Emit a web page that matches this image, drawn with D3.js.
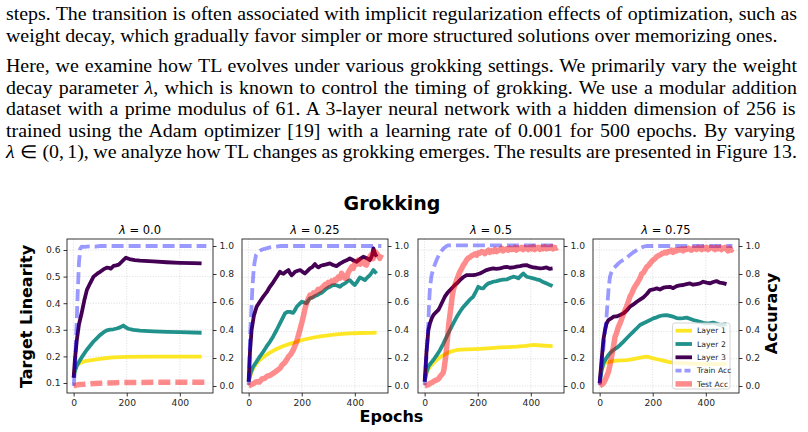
<!DOCTYPE html>
<html>
<head>
<meta charset="utf-8">
<script src="https://cdn.jsdelivr.net/npm/d3@7"></script>
<style>
  body { margin: 0; background: #fff; }
  svg { display: block; }
</style>
</head>
<body>
<svg id="page" width="808" height="432"></svg>
<script>
// ---- paragraph text above the figure ----
const textLines = [
  {y: 20,    justify: true,  parts: [["steps. The transition is often associated with implicit regularization effects of optimization, such as"]]},
  {y: 41.5,  justify: false, parts: [["weight decay, which gradually favor simpler or more structured solutions over memorizing ones."]]},
  {y: 72,    justify: true,  parts: [["Here, we examine how TL evolves under various grokking settings. We primarily vary the weight"]]},
  {y: 93.5,  justify: true,  parts: [["decay parameter "], ["λ", true], [", which is known to control the timing of grokking. We use a modular addition"]]},
  {y: 115,   justify: true,  parts: [["dataset with a prime modulus of 61.  A 3-layer neural network with a hidden dimension of 256 is"]]},
  {y: 136.5, justify: true,  parts: [["trained using the Adam optimizer [19] with a learning rate of 0.001 for 500 epochs.  By varying"]]},
  {y: 158,   justify: true,  parts: [["λ", true], ["\u2005∈\u2005(0,\u20061), we analyze how TL changes as grokking emerges. The results are presented in Figure 13."]]}
];

// ---- chart values: [epoch, value] ----
const lambdas = ["0.0", "0.25", "0.5", "0.75"];
const xTicks = [0, 200, 400];
const accTicks = [0, 0.2, 0.4, 0.6, 0.8, 1.0];
const tlTicksA = [0.1, 0.2, 0.3, 0.4, 0.5, 0.6];
const tlTicksB = [0, 0.2, 0.4, 0.6, 0.8, 1.0];
const legendLabels = ["Layer 1", "Layer 2", "Layer 3", "Train Acc", "Test Acc"];

// lambda = 0.0
const layer1_0 = [[0,0.12],[5,0.152],[12,0.166],[24,0.175],[40,0.181],[60,0.185],[80,0.188],[100,0.191],[125,0.194],[150,0.196],[200,0.198],[300,0.199],[400,0.199],[482,0.199]];
const layer2_0 = [[0,0.12],[5,0.145],[12,0.165],[24,0.186],[36,0.205],[49,0.224],[62,0.24],[74,0.255],[87,0.268],[99,0.28],[112,0.29],[125,0.298],[137,0.301],[150,0.302],[162,0.305],[175,0.309],[187,0.316],[195,0.31],[206,0.304],[225,0.3],[250,0.297],[300,0.294],[351,0.292],[400,0.291],[482,0.289]];
const layer3_0 = [[0,0.12],[5,0.19],[12,0.262],[20,0.32],[30,0.362],[40,0.41],[50,0.45],[62,0.475],[75,0.5],[90,0.512],[100,0.518],[112,0.527],[125,0.534],[132,0.533],[140,0.53],[150,0.54],[160,0.542],[170,0.545],[180,0.555],[190,0.565],[197,0.571],[210,0.566],[230,0.562],[250,0.56],[300,0.557],[350,0.554],[400,0.552],[450,0.551],[482,0.55]];
const train_0 = [[0,0],[5,0.12],[10,0.38],[15,0.65],[20,0.88],[25,0.98],[30,0.995],[40,0.993],[60,0.998],[80,0.995],[100,1.0],[150,1.0],[200,1.0],[300,1.0],[400,1.0],[500,1.0]];
const test_0 = [[0,0],[10,0.006],[20,0.01],[40,0.013],[50,0.017],[60,0.015],[80,0.018],[100,0.02],[130,0.022],[160,0.024],[200,0.025],[300,0.026],[400,0.026],[500,0.026]];

// lambda = 0.25
const layer1_25 = [[0,0.04],[5,0.07],[17,0.13],[30,0.167],[42,0.191],[60,0.22],[80,0.245],[105,0.272],[131,0.294],[155,0.31],[181,0.326],[210,0.342],[240,0.355],[270,0.365],[306,0.375],[340,0.382],[380,0.387],[420,0.39],[460,0.391],[482,0.392]];
const layer2_25 = [[0,0.03],[8,0.1],[17,0.142],[30,0.18],[42,0.216],[55,0.252],[67,0.289],[80,0.325],[92,0.363],[105,0.41],[118,0.461],[128,0.5],[137,0.534],[146,0.545],[156,0.546],[162,0.54],[168,0.539],[175,0.56],[181,0.583],[190,0.6],[200,0.62],[209,0.615],[218,0.608],[225,0.63],[231,0.645],[240,0.65],[250,0.662],[260,0.67],[269,0.681],[278,0.69],[287,0.706],[296,0.72],[306,0.73],[315,0.74],[325,0.743],[335,0.738],[344,0.73],[353,0.745],[363,0.755],[372,0.77],[381,0.779],[390,0.76],[400,0.743],[410,0.77],[419,0.799],[428,0.79],[438,0.779],[448,0.8],[457,0.816],[464,0.835],[470,0.853],[476,0.84],[482,0.828]];
const layer3_25 = [[0,0.032],[5,0.25],[11,0.41],[20,0.52],[30,0.583],[42,0.62],[55,0.657],[68,0.69],[80,0.73],[93,0.765],[106,0.804],[118,0.841],[125,0.83],[131,0.826],[140,0.84],[150,0.853],[156,0.83],[162,0.815],[168,0.825],[175,0.841],[185,0.848],[194,0.853],[203,0.84],[212,0.828],[221,0.845],[231,0.865],[240,0.875],[250,0.897],[257,0.88],[263,0.873],[272,0.885],[281,0.89],[293,0.895],[306,0.902],[318,0.89],[331,0.882],[344,0.9],[356,0.914],[369,0.925],[381,0.939],[394,0.925],[407,0.914],[420,0.935],[432,0.951],[445,0.94],[457,0.926],[465,0.96],[470,1.012],[476,0.975],[482,0.951]];
const train_25 = [[0,0.007],[3,0.15],[5,0.33],[8,0.45],[11,0.567],[14,0.7],[18,0.805],[22,0.88],[28,0.936],[35,0.955],[47,0.971],[60,0.98],[80,0.99],[100,0.995],[120,1.0],[200,1.0],[300,1.0],[400,1.0],[500,1.0]];
const test_25 = [[0,0],[10,0.01],[20,0.02],[30,0.031],[40,0.028],[50,0.05],[60,0.055],[70,0.07],[80,0.075],[92,0.09],[100,0.1],[110,0.115],[118,0.126],[126,0.15],[135,0.165],[143,0.186],[150,0.21],[158,0.225],[168,0.257],[175,0.29],[181,0.317],[187,0.36],[193,0.4],[200,0.45],[206,0.495],[212,0.55],[218,0.59],[224,0.62],[231,0.65],[238,0.64],[244,0.665],[250,0.66],[256,0.674],[262,0.69],[268,0.68],[275,0.7],[281,0.71],[288,0.725],[294,0.715],[300,0.74],[306,0.733],[313,0.75],[320,0.74],[326,0.76],[331,0.757],[338,0.78],[344,0.77],[350,0.805],[356,0.79],[362,0.77],[369,0.769],[375,0.81],[381,0.829],[388,0.85],[394,0.84],[400,0.876],[407,0.87],[413,0.9],[420,0.87],[426,0.89],[432,0.888],[438,0.87],[444,0.864],[450,0.9],[457,0.924],[463,0.94],[469,0.91],[475,0.96],[482,0.948],[488,0.93],[494,0.912],[500,0.94]];

// lambda = 0.5
const layer1_50 = [[0,0.044],[8,0.1],[20,0.142],[33,0.17],[45,0.191],[64,0.22],[83,0.24],[102,0.255],[121,0.265],[140,0.268],[158,0.27],[190,0.272],[221,0.275],[250,0.279],[284,0.284],[315,0.286],[347,0.289],[380,0.295],[409,0.302],[440,0.298],[482,0.294]];
const layer2_50 = [[0,0.032],[7,0.1],[14,0.142],[24,0.17],[33,0.191],[45,0.225],[58,0.265],[70,0.31],[83,0.363],[95,0.41],[108,0.461],[120,0.505],[133,0.546],[145,0.58],[158,0.608],[170,0.635],[183,0.657],[192,0.69],[202,0.73],[211,0.72],[221,0.718],[230,0.74],[240,0.755],[249,0.76],[258,0.767],[271,0.772],[284,0.779],[296,0.782],[309,0.784],[321,0.795],[334,0.804],[344,0.8],[353,0.792],[362,0.81],[372,0.828],[378,0.815],[384,0.804],[396,0.798],[409,0.792],[421,0.785],[434,0.779],[446,0.765],[459,0.755],[470,0.745],[482,0.735]];
const layer3_50 = [[0,0.032],[7,0.25],[14,0.41],[20,0.461],[27,0.5],[33,0.522],[39,0.535],[45,0.547],[52,0.56],[58,0.583],[67,0.62],[76,0.657],[86,0.685],[96,0.706],[105,0.725],[114,0.743],[124,0.76],[133,0.779],[145,0.8],[158,0.816],[170,0.815],[183,0.816],[195,0.82],[208,0.828],[220,0.84],[233,0.853],[245,0.86],[258,0.865],[270,0.862],[284,0.865],[296,0.872],[309,0.877],[321,0.87],[334,0.872],[346,0.878],[359,0.882],[371,0.887],[384,0.89],[396,0.88],[409,0.872],[421,0.87],[434,0.865],[446,0.868],[459,0.872],[470,0.862],[482,0.865]];
const train_50 = [[0,0.007],[4,0.12],[8,0.25],[11,0.35],[14,0.45],[17,0.6],[20,0.7],[26,0.79],[33,0.84],[39,0.87],[45,0.9],[51,0.925],[58,0.95],[64,0.965],[70,0.98],[76,0.99],[83,1.0],[90,1.005],[150,1.005],[250,1.005],[350,1.005],[500,1.005]];
const test_50 = [[0,0],[8,0.005],[15,0.01],[20,0.019],[28,0.025],[35,0.035],[45,0.043],[52,0.05],[58,0.067],[64,0.08],[70,0.095],[73,0.12],[76,0.162],[80,0.22],[83,0.281],[86,0.34],[89,0.4],[92,0.46],[96,0.519],[100,0.58],[104,0.64],[108,0.686],[114,0.72],[121,0.757],[127,0.79],[133,0.817],[140,0.84],[146,0.864],[152,0.88],[158,0.9],[165,0.915],[171,0.92],[177,0.93],[183,0.936],[190,0.945],[196,0.935],[202,0.95],[208,0.948],[215,0.96],[221,0.955],[227,0.945],[233,0.96],[240,0.97],[246,0.955],[252,0.965],[258,0.96],[265,0.975],[271,0.96],[277,0.97],[284,0.971],[290,0.985],[296,0.965],[303,0.975],[309,0.98],[315,0.97],[321,0.985],[328,0.975],[334,0.976],[340,0.99],[346,0.97],[353,0.985],[359,0.98],[365,0.99],[371,0.975],[378,0.99],[384,0.983],[390,0.975],[396,0.99],[403,0.98],[409,0.995],[415,0.975],[421,0.985],[428,0.99],[434,0.976],[440,0.99],[446,0.98],[453,0.995],[459,0.98],[465,0.99],[471,0.983],[478,0.995],[484,0.98],[490,0.99],[496,0.985],[500,0.99]];

// lambda = 0.75
const layer1_75 = [[0,0.044],[4,0.09],[8,0.118],[14,0.15],[20,0.167],[30,0.175],[39,0.179],[52,0.183],[64,0.186],[83,0.188],[102,0.191],[121,0.196],[140,0.203],[158,0.21],[177,0.216],[190,0.21],[202,0.203],[221,0.195],[240,0.186],[258,0.178],[277,0.172],[303,0.169],[328,0.167],[353,0.164],[378,0.162],[403,0.161],[428,0.16],[453,0.161],[478,0.162]];
const layer2_75 = [[0,0.02],[7,0.11],[14,0.167],[24,0.2],[33,0.228],[42,0.248],[52,0.265],[64,0.28],[77,0.302],[89,0.325],[102,0.351],[114,0.375],[127,0.4],[140,0.425],[152,0.449],[165,0.462],[177,0.473],[190,0.485],[202,0.498],[215,0.505],[227,0.515],[240,0.52],[252,0.522],[265,0.516],[277,0.51],[290,0.5],[303,0.498],[315,0.5],[328,0.503],[340,0.495],[353,0.485],[365,0.48],[378,0.473],[390,0.465],[403,0.461],[415,0.462],[428,0.466],[440,0.46],[453,0.449],[465,0.452],[478,0.456]];
const layer3_75 = [[0,0.02],[7,0.18],[14,0.338],[20,0.41],[26,0.46],[33,0.485],[42,0.495],[52,0.51],[64,0.512],[77,0.522],[89,0.534],[102,0.555],[114,0.583],[127,0.6],[140,0.62],[152,0.635],[165,0.652],[177,0.675],[190,0.706],[202,0.71],[215,0.718],[227,0.71],[240,0.723],[252,0.728],[265,0.73],[277,0.72],[290,0.735],[302,0.74],[315,0.743],[327,0.75],[340,0.755],[352,0.745],[365,0.75],[378,0.755],[390,0.767],[403,0.76],[415,0.755],[428,0.765],[440,0.772],[453,0.76],[465,0.757],[478,0.75]];
const train_75 = [[0,0.007],[4,0.08],[8,0.162],[12,0.23],[16,0.305],[21,0.4],[26,0.495],[30,0.6],[34,0.7],[39,0.781],[45,0.815],[52,0.84],[60,0.855],[71,0.876],[80,0.89],[90,0.9],[102,0.915],[114,0.936],[127,0.955],[140,0.971],[152,0.985],[165,0.995],[177,1.0],[190,1.0],[250,1.0],[350,1.0],[500,1.0]];
const test_75 = [[0,0],[7,0.01],[14,0.019],[20,0.04],[26,0.067],[33,0.1],[39,0.15],[45,0.21],[52,0.28],[58,0.352],[64,0.38],[70,0.42],[77,0.448],[83,0.48],[89,0.51],[96,0.543],[102,0.57],[108,0.6],[114,0.638],[121,0.66],[127,0.69],[133,0.71],[140,0.73],[146,0.75],[152,0.769],[158,0.8],[165,0.81],[171,0.829],[177,0.85],[184,0.86],[190,0.876],[196,0.89],[202,0.9],[209,0.91],[215,0.924],[221,0.93],[227,0.935],[234,0.945],[240,0.948],[246,0.955],[252,0.95],[258,0.96],[265,0.96],[271,0.97],[277,0.955],[284,0.97],[290,0.965],[296,0.975],[303,0.971],[309,0.98],[315,0.965],[321,0.98],[328,0.975],[334,0.985],[340,0.976],[346,0.97],[353,0.985],[359,0.98],[365,0.975],[371,0.99],[378,0.983],[384,0.975],[390,0.99],[396,0.98],[403,0.99],[409,0.975],[415,0.985],[421,0.99],[428,0.983],[434,0.975],[440,0.99],[446,0.98],[453,0.99],[459,0.975],[465,0.985],[471,0.99],[478,0.976],[484,0.965],[490,0.985],[496,0.97],[500,0.98]];

// ---- layout ----
const panelLeft = [67, 242, 418, 593];
const pw = 146, plotTop = 239, plotBottom = 393;
const sans = "DejaVu Sans";

const panels = [
  {lam: lambdas[0], tlDom: [0.0624, 0.6414], tlTicks: tlTicksA, series: [layer1_0, layer2_0, layer3_0, train_0, test_0], testDash: true},
  {lam: lambdas[1], tlDom: [-0.0515, 1.0815], tlTicks: tlTicksB, series: [layer1_25, layer2_25, layer3_25, train_25, test_25], testDash: false},
  {lam: lambdas[2], tlDom: [-0.0515, 1.0815], tlTicks: tlTicksB, series: [layer1_50, layer2_50, layer3_50, train_50, test_50], testDash: false},
  {lam: lambdas[3], tlDom: [-0.0515, 1.0815], tlTicks: tlTicksB, series: [layer1_75, layer2_75, layer3_75, train_75, test_75], testDash: false}
];

// line styles: 3 layers on left axis, 2 accuracies on right axis
const styles = [
  {color: "#fde725", width: 3.8, opacity: 1},
  {color: "#21918c", width: 3.8, opacity: 1},
  {color: "#440154", width: 3.8, opacity: 1},
  {color: "#0000ff", width: 3.8, opacity: 0.4},
  {color: "#ff0000", width: 5.5, opacity: 0.45}
];

const svg = d3.select("#page");

// paragraph text: the page scan is wider than plain Times, so stretch
// horizontally until the unjustified line fits its measured width
const textLeft = 6, textWidth = 791, lastLineWidth = 772;
const serif = "'Liberation Serif', 'Times New Roman', serif";
const textEls = textLines.map(l => {
  const t = svg.append("text")
    .attr("x", 0).attr("y", 0)
    .style("font-family", serif)
    .style("font-size", "18px")
    .attr("fill", "#000");
  l.parts.forEach(p => {
    t.append("tspan").text(p[0]).style("font-style", p[1] ? "italic" : null);
  });
  return t;
});
const sx = lastLineWidth / textEls[1].node().getComputedTextLength();
textLines.forEach((l, i) => {
  const t = textEls[i];
  t.attr("transform", `translate(${textLeft},${l.y}) scale(${sx},1)`);
  if (l.justify) {
    const full = l.parts.map(p => p[0]).join("");
    const n = (full.match(/ /g) || []).length;
    const w = t.node().getComputedTextLength();
    t.attr("word-spacing", (textWidth / sx - w) / n);
  }
});

// figure titles
svg.append("text")
  .attr("x", 392).attr("y", 210)
  .attr("text-anchor", "middle")
  .style("font-family", sans).style("font-weight", "bold").style("font-size", "19px")
  .text("Grokking");

svg.append("text")
  .attr("x", 391.5).attr("y", 421.5)
  .attr("text-anchor", "middle")
  .style("font-family", sans).style("font-weight", "bold").style("font-size", "16px")
  .text("Epochs");

svg.append("text")
  .attr("transform", "translate(31.5,316.5) rotate(-90)")
  .attr("text-anchor", "middle")
  .style("font-family", sans).style("font-weight", "bold").style("font-size", "16px")
  .text("Target Linearity");

svg.append("text")
  .attr("transform", "translate(777,313.5) rotate(-90)")
  .attr("text-anchor", "middle")
  .style("font-family", sans).style("font-weight", "bold").style("font-size", "16px")
  .text("Accuracy");

function styleAxis(g) {
  g.select(".domain").remove();
  g.selectAll(".tick line").attr("stroke", "#000").attr("stroke-width", 0.8);
  g.selectAll(".tick text")
    .style("font-family", sans).style("font-size", "9.2px").attr("fill", "#262626");
}

panels.forEach((p, i) => {
  const left = panelLeft[i];
  const x = d3.scaleLinear().domain([-25, 525]).range([left, left + pw]);
  const yL = d3.scaleLinear().domain(p.tlDom).range([plotBottom, plotTop]);
  const yR = d3.scaleLinear().domain([-0.05, 1.05]).range([plotBottom, plotTop]);

  const g = svg.append("g");

  // grid
  g.append("g").selectAll("line").data(p.tlTicks).join("line")
    .attr("x1", left).attr("x2", left + pw)
    .attr("y1", d => yL(d)).attr("y2", d => yL(d))
    .attr("stroke", "#b0b0b0").attr("stroke-width", 0.7)
    .attr("stroke-dasharray", "1,1.6").attr("opacity", 0.6);
  g.append("g").selectAll("line").data(xTicks).join("line")
    .attr("x1", d => x(d)).attr("x2", d => x(d))
    .attr("y1", plotTop).attr("y2", plotBottom)
    .attr("stroke", "#b0b0b0").attr("stroke-width", 0.7)
    .attr("stroke-dasharray", "1,1.6").attr("opacity", 0.6);

  const clipId = "clip" + i;
  svg.append("clipPath").attr("id", clipId)
    .append("rect").attr("x", left).attr("y", plotTop).attr("width", pw).attr("height", plotBottom - plotTop);

  const lines = g.append("g").attr("clip-path", "url(#" + clipId + ")");
  p.series.forEach((s, k) => {
    const yy = k < 3 ? yL : yR;
    const st = styles[k];
    const line = d3.line().x(d => x(d[0])).y(d => yy(d[1]));
    const dash = k === 3 || (k === 4 && p.testDash) ? "12,5" : null;
    lines.append("path")
      .attr("d", line(s))
      .attr("fill", "none")
      .attr("stroke", st.color)
      .attr("stroke-opacity", st.opacity)
      .attr("stroke-width", st.width)
      .attr("stroke-linejoin", "round")
      .attr("stroke-dasharray", dash);
  });

  // axes (only the first panel shows its left tick labels)
  if (i === 0) {
    g.append("g").attr("transform", `translate(${left},0)`)
      .call(d3.axisLeft(yL).tickValues(p.tlTicks).tickFormat(d3.format(".1f")).tickSize(3.5).tickPadding(3))
      .call(styleAxis);
  }
  g.append("g").attr("transform", `translate(${left + pw},0)`)
    .call(d3.axisRight(yR).tickValues(accTicks).tickFormat(d3.format(".1f")).tickSize(3.5).tickPadding(3))
    .call(styleAxis);
  g.append("g").attr("transform", `translate(0,${plotBottom})`)
    .call(d3.axisBottom(x).tickValues(xTicks).tickFormat(d3.format("d")).tickSize(3.5).tickPadding(3))
    .call(styleAxis);

  // spines
  g.append("rect")
    .attr("x", left).attr("y", plotTop).attr("width", pw).attr("height", plotBottom - plotTop)
    .attr("fill", "none").attr("stroke", "#222").attr("stroke-width", 0.9);

  // subplot title
  const t = g.append("text")
    .attr("x", left + pw / 2).attr("y", 233.5)
    .attr("text-anchor", "middle")
    .style("font-family", sans).style("font-size", "11.5px");
  t.append("tspan").style("font-style", "italic").text("λ");
  t.append("tspan").text(" = " + p.lam);

  // legend in last panel
  if (i === 3) {
    const lg = g.append("g");
    lg.append("rect")
      .attr("x", 672.5).attr("y", 323).attr("width", 57.5).attr("height", 66)
      .attr("rx", 2.5)
      .attr("fill", "#fff").attr("fill-opacity", 0.8)
      .attr("stroke", "#ccc").attr("stroke-width", 0.8);
    legendLabels.forEach((lab, k) => {
      const yy = 330.7 + k * 13.3;
      const st = styles[k];
      lg.append("line")
        .attr("x1", 675.5).attr("x2", 692).attr("y1", yy).attr("y2", yy)
        .attr("stroke", st.color).attr("stroke-opacity", st.opacity)
        .attr("stroke-width", st.width)
        .attr("stroke-dasharray", k === 3 ? "6,3" : null);
      lg.append("text")
        .attr("x", 697).attr("y", yy).attr("dy", "0.35em")
        .style("font-family", sans).style("font-size", "7.7px").attr("fill", "#262626")
        .text(lab);
    });
  }
});
</script>
</body>
</html>
